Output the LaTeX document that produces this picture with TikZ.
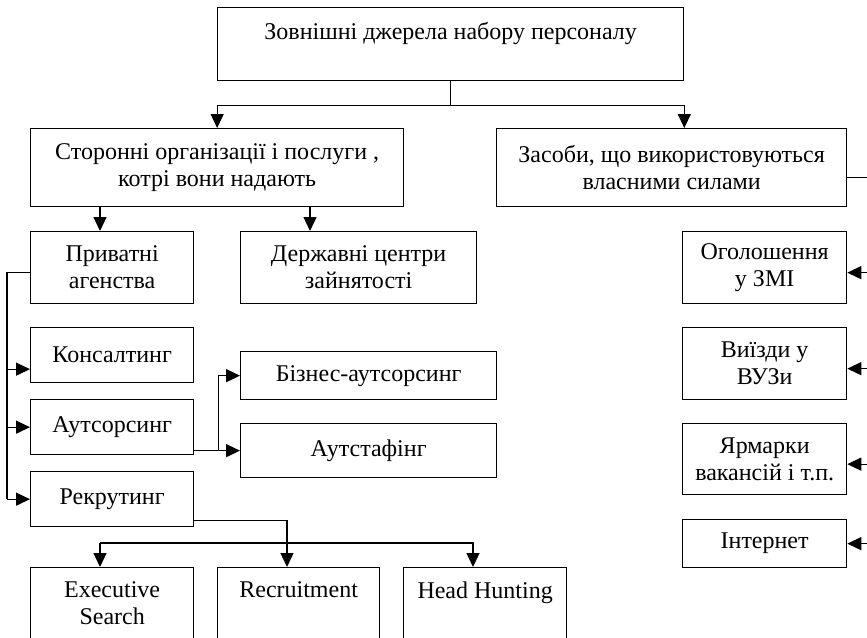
\documentclass[tikz,border=0pt]{standalone}
\usepackage{fontspec}
\setmainfont{Liberation Serif}
\usetikzlibrary{arrows.meta}

\begin{document}
\begin{tikzpicture}[x=0.5pt, y=-0.5pt,
    box/.style={draw, line width=0.65pt, anchor=north west, align=center, inner sep=0pt, font=\fontsize{12}{13.5}\selectfont},
    lowbox/.style={box, inner ysep=7pt, text depth=60pt},
    line/.style={line width=0.65pt},
    arr/.style={line width=0.65pt, -{Triangle[length=7pt,width=6.5pt]}}]
    % Canvas
    \clip (0,0) rectangle (867,637);

    % Top box
    \node[box, minimum width=233pt, minimum height=36.5pt] (top) at (217,7) {Зовнішні джерела набору персоналу\\ \mbox{}};

    % Second row
    \node[box, minimum width=186.5pt, minimum height=39pt] (sto) at (30,128) {Сторонні організації і послуги ,\\ котрі вони надають};
    \node[box, minimum width=175pt, minimum height=39pt] (zas) at (496,128) {Засоби, що використовуються\\власними силами};

    % Outside organisations
    \node[box, minimum width=81.5pt, minimum height=36pt] (priv) at (30,231) {Приватні\\агенства};
    \node[box, minimum width=118pt, minimum height=36pt] (derzh) at (240,231) {Державні центри\\зайнятості};
    \node[box, minimum width=81.5pt, minimum height=27.5pt] (kons) at (30,327) {Консалтинг};
    \node[box, minimum width=81.5pt, minimum height=27.5pt] (aut) at (30,399) {Аутсорсинг};
    \node[box, minimum width=81.5pt, minimum height=27.5pt] (rek) at (30,471) {Рекрутинг};
    \node[box, minimum width=128pt, minimum height=24pt] (biz) at (240,351) {Бізнес-аутсорсинг};
    \node[box, minimum width=128pt, minimum height=27pt] (autst) at (240,423) {Аутстафінг};

    % Recruiting kinds (cut at the bottom)
    \node[lowbox, minimum width=81.5pt] (exec) at (30,567) {Executive\\Search};
    \node[lowbox, minimum width=81pt] (recr) at (217,567) {Recruitment};
    \node[lowbox, minimum width=81.5pt] (hh) at (403,567) {Head Hunting};

    % Own means
    \node[box, minimum width=82pt, minimum height=36pt] (ogol) at (682,231) {Оголошення\\у ЗМІ};
    \node[box, minimum width=82pt, minimum height=36pt] (vyizd) at (682,327) {Виїзди у\\ВУЗи};
    \node[box, minimum width=82pt, minimum height=35.5pt] (yarm) at (682,423) {Ярмарки\\вакансій і т.п.};
    \node[box, minimum width=82pt, minimum height=24pt] (inet) at (682,519) {Інтернет};

    % Top -> second row
    \draw[line] (top.south) -- ++(0,24) coordinate (t1);
    \draw[arr] (t1) -| (sto.north);
    \draw[arr] (t1) -| (top.east |- zas.north);

    % Сторонні -> Приватні, Державні
    \coordinate (p1) at ([xshift=35pt]priv.north west);
    \coordinate (d1) at ([xshift=35pt]derzh.north west);
    \draw[arr] (p1 |- sto.south) -- (p1);
    \draw[arr] (d1 |- sto.south) -- (d1);

    % Приватні -> left column
    \coordinate (k1) at ([yshift=-7pt]kons.west);
    \draw[line] ([yshift=-2.5pt]priv.west) -- ++(-23,0) coordinate (lb) -- (lb |- rek.west);
    \draw[arr] (lb |- k1) -- (k1);
    \draw[arr] (lb |- aut.west) -- (aut.west);
    \draw[arr] (lb |- rek.west) -- (rek.west);

    % Аутсорсинг -> its kinds
    \draw[line] (aut.east |- autst.west) -- ++(24,0) coordinate (aj);
    \draw[arr] (aj) -- (autst.west);
    \draw[arr] (aj) |- (biz.west);

    % Рекрутинг -> its kinds
    \coordinate (r1) at ([xshift=35pt]recr.north west);
    \coordinate (e1) at ([xshift=35pt]exec.north west);
    \coordinate (h1) at ([xshift=35pt]hh.north west);
    \draw[arr] ([yshift=3.5pt]rek.south east) -| (r1);
    \draw[arr] ([yshift=12pt]e1) -- (e1);
    \draw[arr] ([yshift=12pt]e1) -| (h1);

    % Засоби -> own means (bus runs off the page)
    \coordinate (o1) at ([yshift=-2.5pt]ogol.east);
    \coordinate (v1) at ([yshift=-2.5pt]vyizd.east);
    \coordinate (y1) at ([yshift=-2.5pt]yarm.east);
    \draw[line] ([yshift=-5pt]zas.east) -- ++(40,0) coordinate (rb) -- (rb |- inet.east);
    \draw[arr] (rb |- o1) -- (o1);
    \draw[arr] (rb |- v1) -- (v1);
    \draw[arr] (rb |- y1) -- (y1);
    \draw[arr] (rb |- inet.east) -- (inet.east);
\end{tikzpicture}
\end{document}
